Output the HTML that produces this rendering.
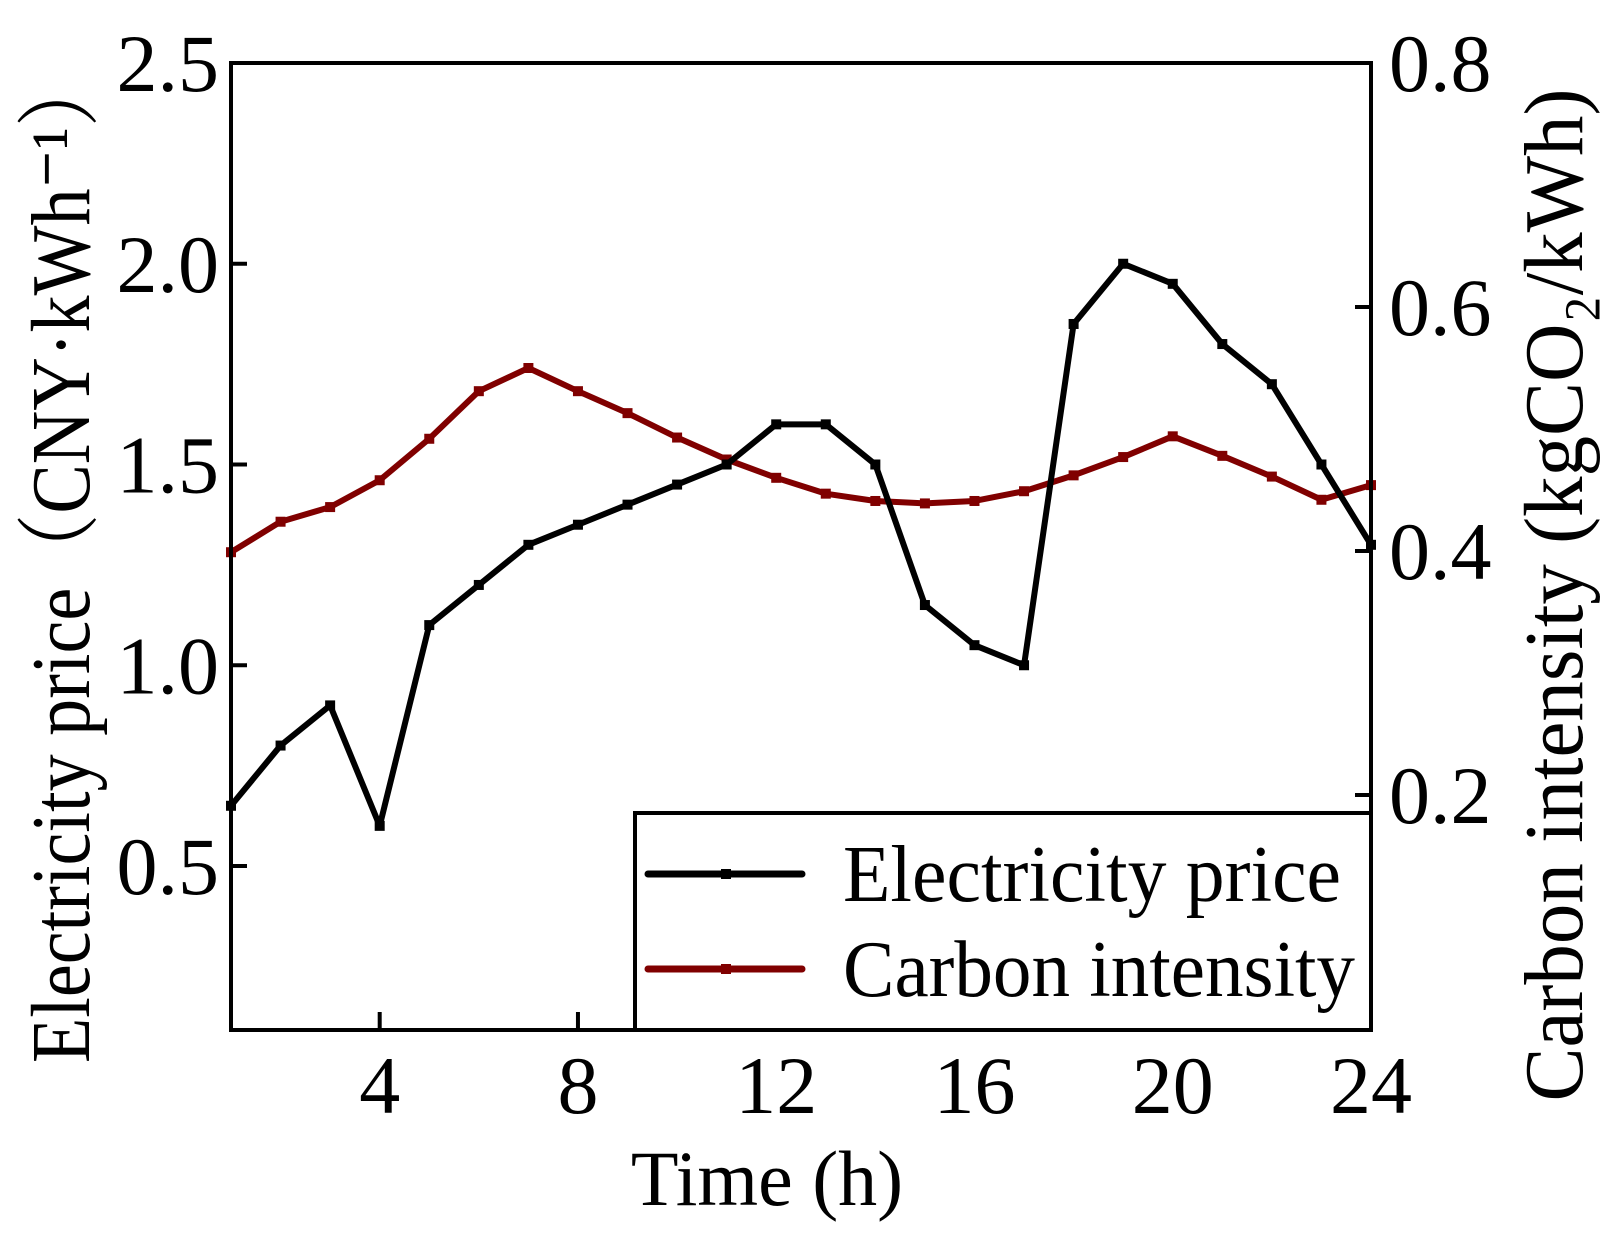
<!DOCTYPE html>
<html><head><meta charset="utf-8"><style>
html,body{margin:0;padding:0;background:#fff;}
svg{display:block;font-family:"Liberation Serif","Noto Serif CJK SC",serif;}
</style></head><body>
<svg id="chart" width="1623" height="1243" viewBox="0 0 1623 1243">
<g id="ticks"></g>
<g id="series"></g>
<rect x="231" y="63" width="1140" height="967" fill="none" stroke="#000" stroke-width="4"/>
<text x="558" y="89" font-size="84" text-anchor="middle" transform="rotate(-90 558 89) translate(-1116 0) translate(558 0)"></text>
<text x="0" y="0" font-size="84" text-anchor="middle" transform="translate(89 558) rotate(-90)" textLength="1010" lengthAdjust="spacingAndGlyphs">Electricity price（CNY·kWh⁻¹）</text>
<text x="0" y="0" font-size="84" text-anchor="middle" transform="translate(1582 595) rotate(-90)" textLength="1013" lengthAdjust="spacingAndGlyphs">Carbon intensity (kgCO₂/kWh)</text>
<text x="767" y="1205" font-size="78" text-anchor="middle">Time (h)</text>
<g>
<rect x="635" y="813" width="736" height="217" fill="#fff" stroke="#000" stroke-width="4"/>
<line x1="648" y1="874" x2="802" y2="874" stroke="#000" stroke-width="7" stroke-linecap="round"/>
<rect x="721" y="869" width="10" height="10" fill="#000"/>
<text x="843" y="901" font-size="80" textLength="498" lengthAdjust="spacingAndGlyphs">Electricity price</text>
<line x1="648" y1="969" x2="802" y2="969" stroke="#800000" stroke-width="7" stroke-linecap="round"/>
<rect x="721" y="964" width="10" height="10" fill="#800000"/>
<text x="843" y="996" font-size="80" textLength="512" lengthAdjust="spacingAndGlyphs">Carbon intensity</text>
</g>
</svg>
<script>
const hours = [1,2,3,4,5,6,7,8,9,10,11,12,13,14,15,16,17,18,19,20,21,22,23,24];
const priceValues = [0.65,0.8,0.9,0.6,1.1,1.2,1.3,1.35,1.4,1.45,1.5,1.6,1.6,1.5,1.15,1.05,1.0,1.85,2.0,1.95,1.8,1.7,1.5,1.3];
const carbonValues = [0.399,0.424,0.436,0.458,0.492,0.531,0.550,0.531,0.513,0.493,0.475,0.460,0.447,0.441,0.439,0.441,0.449,0.462,0.477,0.494,0.478,0.461,0.442,0.454];
const xTicks = [4,8,12,16,20,24];
const leftTicks = [0.5,1.0,1.5,2.0,2.5];
const rightTicks = [0.2,0.4,0.6,0.8];

const NS = "http://www.w3.org/2000/svg";
const L = 231, R = 1371, T = 63, B = 1030;
const xS = v => L + (v - 1) / 23 * (R - L);
const yL = v => T + (2.5 - v) * 401.5;
const yR = v => T + (0.8 - v) * 1220;

function mk(tag, attrs, parent) {
  const e = document.createElementNS(NS, tag);
  for (const k in attrs) e.setAttribute(k, attrs[k]);
  parent.appendChild(e);
  return e;
}
const tg = document.getElementById('ticks');
xTicks.forEach(v => {
  const l = mk('line', {x1: xS(v), x2: xS(v), y1: B, y2: B - 18, stroke: '#000', 'stroke-width': 4}, tg);
  
  
  const t = mk('text', {x: xS(v), y: 1113, 'font-size': 82, 'text-anchor': 'middle'}, tg);
  t.textContent = v;
  
  
});
leftTicks.forEach(v => {
  const l = mk('line', {x1: L, x2: L + 16, y1: yL(v), y2: yL(v), stroke: '#000', 'stroke-width': 4}, tg);
  
  
  const t = mk('text', {x: 219, y: yL(v) + 28, 'font-size': 82, 'text-anchor': 'end'}, tg);
  t.textContent = v.toFixed(1);
  
  
});
rightTicks.forEach(v => {
  const l = mk('line', {x1: R - 16, x2: R, y1: yR(v), y2: yR(v), stroke: '#000', 'stroke-width': 4}, tg);
  
  
  const t = mk('text', {x: 1389, y: yR(v) + 28, 'font-size': 82}, tg);
  t.textContent = v.toFixed(1);
  
  
});

const sg = document.getElementById('series');
function drawSeries(vals, yf, color, name) {
  const g = mk('g', {}, sg);
  
  
  const pts = vals.map((v, i) => xS(hours[i]) + ',' + yf(v)).join(' ');
  const p = mk('polyline', {points: pts, fill: 'none', stroke: color, 'stroke-width': 6, 'stroke-linejoin': 'round'}, g);
  
  
  vals.forEach((v, i) => {
    const m = mk('rect', {x: xS(hours[i]) - 5, y: yf(v) - 5, width: 10, height: 10, fill: color}, g);
    
    
  });
}
drawSeries(carbonValues, yR, '#800000', 'carbon-intensity');
drawSeries(priceValues, yL, '#000', 'electricity-price');
</script>
</body></html>
